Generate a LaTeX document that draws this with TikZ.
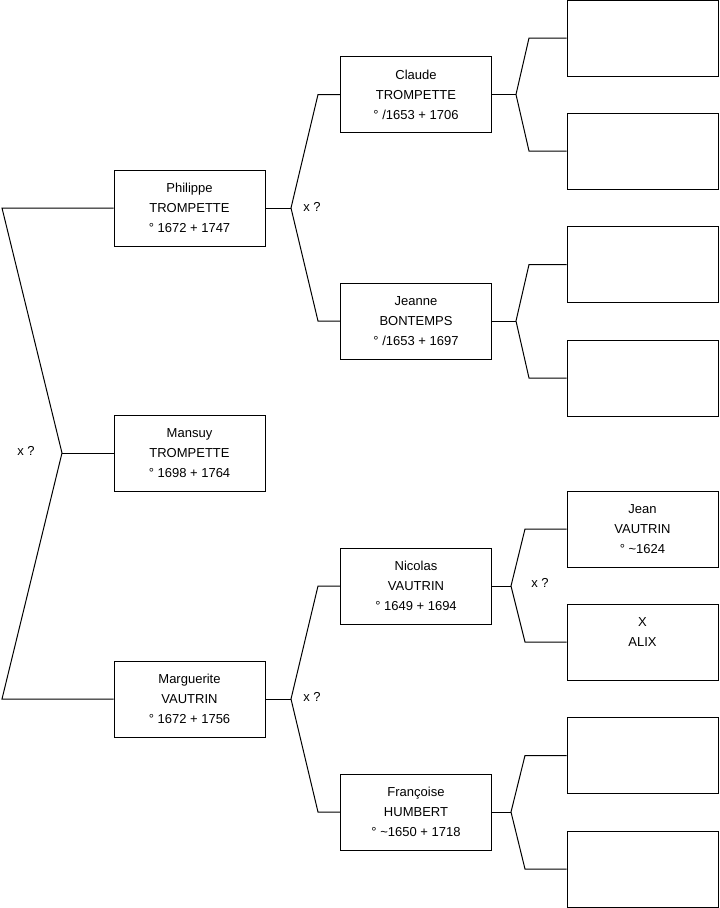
\documentclass[tikz,border=0pt]{standalone}
\usepackage{fontspec}
\setmainfont{Liberation Sans}

\begin{document}
\begin{tikzpicture}[
    x=0.75pt, y=-0.75pt,
    person/.style={draw, line width=0.75pt, align=center, font=\fontsize{9.75}{15}\selectfont, minimum width=113.25pt, minimum height=57pt, inner sep=0pt},
    union/.style={font=\fontsize{9.75}{15}\selectfont, inner sep=1pt},
    link/.style={line width=0.75pt}
  ]
    \useasboundingbox (0,0) rectangle (719,908);

    % generations 1 and 2
    \node[person] (mansuy) at (189.5,453) {Mansuy\\TROMPETTE\\° 1698 + 1764};
    \node[person] (philippe) at (189.5,208) {Philippe\\TROMPETTE\\° 1672 + 1747};
    \node[person] (marguerite) at (189.5,699) {Marguerite\\VAUTRIN\\° 1672 + 1756};

    % generation 3
    \node[person] (claude) at (416,94.5) {Claude\\TROMPETTE\\° /1653 + 1706};
    \node[person] (jeanne) at (416,321) {Jeanne\\BONTEMPS\\° /1653 + 1697};
    \node[person] (nicolas) at (416,586) {Nicolas\\VAUTRIN\\° 1649 + 1694};
    \node[person] (francoise) at (416,812) {Françoise\\HUMBERT\\° \textasciitilde1650 + 1718};

    % generation 4
    \node[person] (claudefather) at (642.5,38) {};
    \node[person] (claudemother) at (642.5,151) {};
    \node[person] (jeannefather) at (642.5,264.5) {};
    \node[person] (jeannemother) at (642.5,378) {};
    \node[person] (jean) at (642.5,529) {Jean\\VAUTRIN\\° \textasciitilde1624};
    \node[person] (alix) at (642.5,642) {X\\ALIX\\\mbox{}};
    \node[person] (francoisefather) at (642.5,755.5) {};
    \node[person] (francoisemother) at (642.5,869) {};

    % forks and bends
    \coordinate (edge) at (2,0);
    \coordinate (f1) at (62,453);
    \coordinate (f2) at (291,208);
    \coordinate (f3) at (291,699);
    \coordinate (bend2) at (318,0);
    \coordinate (f4) at (516,94.5);
    \coordinate (f5) at (516,321);
    \coordinate (f6) at (511,586);
    \coordinate (f7) at (511,812);
    \coordinate (bend3) at (529,0);
    \coordinate (bend4) at (525,0);

    \draw[link] (philippe.west) -- (philippe.west -| edge) -- (f1) -- (marguerite.west -| edge) -- (marguerite.west);
    \draw[link] (f1) -- (mansuy.west);
    \node[union] (u1) at (26,451) {x ?};

    \draw[link] (philippe.east) -- (f2);
    \draw[link] (claude.west) -- (claude.west -| bend2) -- (f2) -- (jeanne.west -| bend2) -- (jeanne.west);
    \node[union] (u2) at (312,207) {x ?};
    \draw[link] (marguerite.east) -- (f3);
    \draw[link] (nicolas.west) -- (nicolas.west -| bend2) -- (f3) -- (francoise.west -| bend2) -- (francoise.west);
    \node[union] (u3) at (312,697) {x ?};

    \draw[link] (claude.east) -- (f4);
    \draw[link] (claudefather.west) -- (claudefather.west -| bend3) -- (f4) -- (claudemother.west -| bend3) -- (claudemother.west);
    \draw[link] (jeanne.east) -- (f5);
    \draw[link] (jeannefather.west) -- (jeannefather.west -| bend3) -- (f5) -- (jeannemother.west -| bend3) -- (jeannemother.west);
    \draw[link] (nicolas.east) -- (f6);
    \draw[link] (jean.west) -- (jean.west -| bend4) -- (f6) -- (alix.west -| bend4) -- (alix.west);
    \node[union] (u4) at (540,583) {x ?};
    \draw[link] (francoise.east) -- (f7);
    \draw[link] (francoisefather.west) -- (francoisefather.west -| bend4) -- (f7) -- (francoisemother.west -| bend4) -- (francoisemother.west);
  \end{tikzpicture}
\end{document}
